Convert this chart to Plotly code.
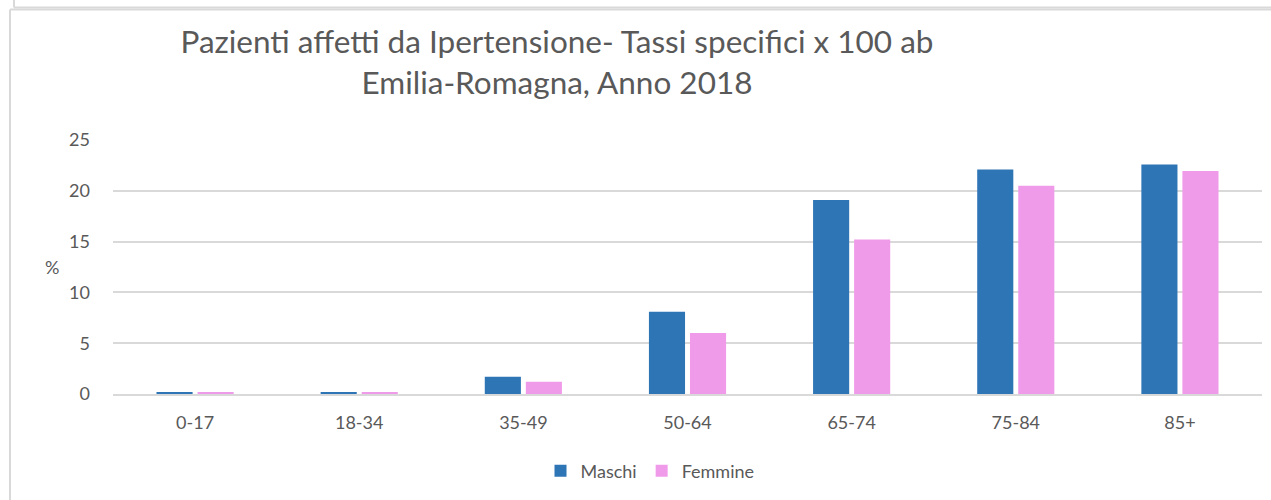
import plotly.graph_objects as go

categories = ["0-17", "18-34", "35-49", "50-64", "65-74", "75-84", "85+"]
maschi = [0.2, 0.2, 1.7, 8.1, 19.1, 22.1, 22.6]
femmine = [0.2, 0.2, 1.2, 6.0, 15.2, 20.5, 21.95]
y_ticks = [0, 5, 10, 15, 20, 25]

W, H = 1271, 500
L, R, T, B = 113, 9, 140, 106
pw, ph = W - L - R, H - T - B

def px(x):
    return (x - L) / pw

def py(y):
    return (H - B - y) / ph

txt = "#595959"
font_main = "Lato"

fig = go.Figure()
fig.add_trace(go.Bar(name="Maschi", x=categories, y=maschi, marker_color="#2E75B6",
                     marker_line_width=0))
fig.add_trace(go.Bar(name="Femmine", x=categories, y=femmine, marker_color="#F09BEA",
                     marker_line_width=0))

fig.update_layout(
    width=W, height=H,
    margin=dict(l=L, r=R, t=T, b=B, pad=0),
    paper_bgcolor="white", plot_bgcolor="white",
    barmode="group", bargap=0.5, bargroupgap=0.12,
    font=dict(family=font_main, color=txt, size=18),
    title=dict(
        text="Pazienti affetti da Ipertensione- Tassi specifici x 100 ab<br>Emilia-Romagna, Anno 2018",
        x=557 / W, xanchor="center", xref="container",
        y=1 - 53 / H, yanchor="middle", yref="container",
        font=dict(family=font_main, size=31.5, color=txt),
    ),
    legend=dict(orientation="h", x=px(650), xanchor="center", y=py(471), yanchor="middle",
                font=dict(size=18, color=txt), traceorder="normal"),
    showlegend=True,
)
fig.update_xaxes(showgrid=False, showline=True, linecolor="#D9D9D9", linewidth=1.5,
                 ticks="", ticklabelstandoff=12, tickfont=dict(size=18, color=txt))
fig.update_yaxes(range=[0, 25], tickvals=y_ticks, showgrid=True, gridcolor="#D9D9D9",
                 gridwidth=1.5, zeroline=False, showline=False, ticks="",
                 ticklabelstandoff=22, tickfont=dict(size=18, color=txt))

fig.add_annotation(text="%", x=px(43), y=py(267), xref="paper", yref="paper",
                   showarrow=False, font=dict(size=18, color=txt))

border = "#D9D9D9"
fig.add_shape(type="line", xref="paper", yref="paper", x0=px(10), x1=px(10),
              y0=py(9.5), y1=py(H), line=dict(color=border, width=2))
fig.add_shape(type="line", xref="paper", yref="paper", x0=px(10), x1=px(W),
              y0=py(9.5), y1=py(9.5), line=dict(color=border, width=2))
fig.add_shape(type="line", xref="paper", yref="paper", x0=px(14), x1=px(14),
              y0=py(0), y1=py(7.5), line=dict(color=border, width=2))
fig.add_shape(type="line", xref="paper", yref="paper", x0=px(14), x1=px(W),
              y0=py(7.5), y1=py(7.5), line=dict(color=border, width=2))

fig.write_html("out.html", config={"displayModeBar": False},
               post_script="document.body.style.margin='0';")
